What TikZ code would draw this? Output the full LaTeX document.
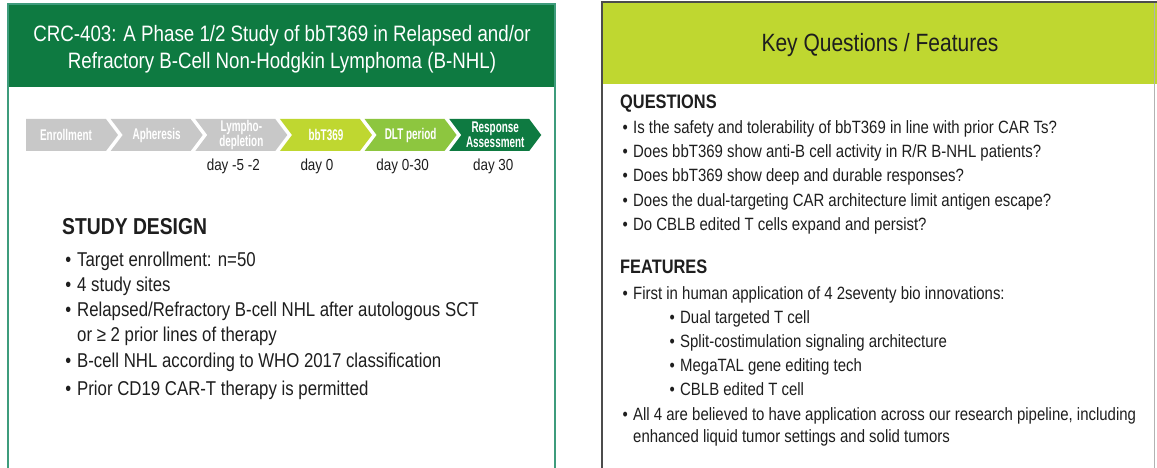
\documentclass[tikz,border=0pt]{standalone}
\usepackage{fontspec}
\setmainfont{Liberation Sans}[FakeStretch=0.84]
\newfontfamily\chevfont{Liberation Sans}[FakeStretch=0.64]
\usetikzlibrary{positioning,shapes.symbols}

\definecolor{darkgrn}{HTML}{0E7A41}
\definecolor{limegrn}{HTML}{BFD730}
\definecolor{midgrn}{HTML}{8DC63F}
\definecolor{chevgray}{HTML}{C8C8C8}
\definecolor{tealline}{HTML}{3E9C7C}
\definecolor{txt}{HTML}{1E1E1E}

\newcommand{\itm}{\llap{\textbullet\hspace{0.3em}}}

\begin{document}
\begin{tikzpicture}[x=1pt, y=-1pt,
    chev/.style={%
      signal, signal to=east, signal from=west, signal pointer angle=106,
      minimum width=92pt, minimum height=32pt, inner sep=0pt,
      text=white, align=center, font=\chevfont\bfseries\fontsize{15.5}{15}\selectfont
    },
    day/.style={%
      font=\fontsize{16}{18}\selectfont, text=txt, inner sep=0pt,
      text height=0.75em, text depth=0.2em
    },
    ttl/.style={%
      text=white, align=center, inner sep=0pt
    },
    hd/.style={%
      anchor=west, text=txt, inner sep=0pt, text height=0.75em, text depth=0.2em
    },
    lt/.style={%
      hd, font=\fontsize{20}{24}\selectfont
    },
    rt/.style={%
      hd, font=\fontsize{17.8}{20}\selectfont
    }
]
    \clip (0,0) rectangle (1157,468);
    \fill[white] (0,0) rectangle (1157,468);

    % left panel
    \fill[darkgrn] (8,4) rectangle (555,87);
    \draw[tealline, line width=1.3pt] (8,4) rectangle (555,480);
    \node[ttl, font=\fontsize{22.3}{27}\selectfont] (ltitle) at (282,49)
      {CRC-403: A Phase 1/2 Study of bbT369 in Relapsed and/or\\
       Refractory B-Cell Non-Hodgkin Lymphoma (B-NHL)};

    \node[chev, fill=chevgray, signal from=nowhere] (c1) at (66,135) {Enrollment};
    \node[chev, fill=chevgray] (c2) [right = 4.2pt of c1] {Apheresis};
    \node[chev, fill=chevgray] (c3) [right = 4.2pt of c2] {Lympho-\\depletion};
    \node[chev, fill=limegrn]  (c4) [right = 4.2pt of c3] {bbT369};
    \node[chev, fill=midgrn]   (c5) [right = 4.2pt of c4] {DLT period};
    \node[chev, fill=darkgrn]  (c6) [right = 4.2pt of c5] {Response\\Assessment};

    \node[day] (d3) [below = 12pt of c3, xshift=-8pt] {day -5 -2};
    \node[day] (d4) [below = 12pt of c4, xshift=-9pt] {day 0};
    \node[day] (d5) [below = 12pt of c5, xshift=-8pt] {day 0-30};
    \node[day] (d6) [below = 12pt of c6, xshift=-2pt] {day 30};

    \node[hd, font=\bfseries\fontsize{23}{26}\selectfont] (sd) at (62,232) {STUDY DESIGN};
    \node[lt] (s1) at (77,264) {\itm Target enrollment: n=50};
    \node[lt] (s2) at (77,289) {\itm 4 study sites};
    \node[lt] (s3) at (77,314) {\itm Relapsed/Refractory B-cell NHL after autologous SCT};
    \node[lt] (s4) at (77,339) {or ≥ 2 prior lines of therapy};
    \node[lt] (s5) at (77,365) {\itm B-cell NHL according to WHO 2017 classification};
    \node[lt] (s6) at (77,393) {\itm Prior CD19 CAR-T therapy is permitted};

    % right panel
    \fill[limegrn] (602,2) rectangle (1157,84);
    \draw[gray!60, line width=0.8pt] (1154,2) -- (1154,480);
    \draw[black!70, line width=1.4pt] (602,480) -- (602,2) -- (1157,2);
    \node[ttl, text=txt, font=\fontsize{25}{28}\selectfont] (rtitle) at (880,45)
      {Key Questions / Features};

    \node[hd, font=\bfseries\fontsize{19.5}{22}\selectfont] (qs) at (620,106) {QUESTIONS};
    \node[rt] (q1) at (633,131) {\itm Is the safety and tolerability of bbT369 in line with prior CAR Ts?};
    \node[rt] (q2) at (633,155) {\itm Does bbT369 show anti-B cell activity in R/R B-NHL patients?};
    \node[rt] (q3) at (633,179) {\itm Does bbT369 show deep and durable responses?};
    \node[rt] (q4) at (633,204) {\itm Does the dual-targeting CAR architecture limit antigen escape?};
    \node[rt] (q5) at (633,228) {\itm Do CBLB edited T cells expand and persist?};

    \node[hd, font=\bfseries\fontsize{19.5}{22}\selectfont] (fs) at (620,271) {FEATURES};
    \node[rt] (f1) at (633,297) {\itm First in human application of 4 2seventy bio innovations:};
    \node[rt] (f2) at (680,321) {\itm Dual targeted T cell};
    \node[rt] (f3) at (680,345) {\itm Split-costimulation signaling architecture};
    \node[rt] (f4) at (680,369) {\itm MegaTAL gene editing tech};
    \node[rt] (f5) at (680,393) {\itm CBLB edited T cell};
    \node[rt] (f6) at (633,418) {\itm All 4 are believed to have application across our research pipeline, including};
    \node[rt] (f7) at (633,440) {enhanced liquid tumor settings and solid tumors};
\end{tikzpicture}
\end{document}
